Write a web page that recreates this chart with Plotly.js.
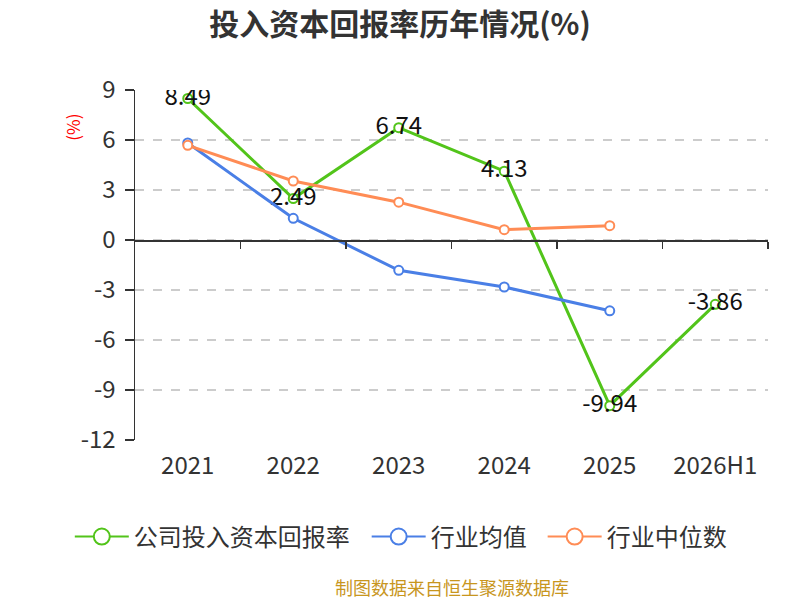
<!DOCTYPE html>
<html>
<head>
<meta charset="utf-8">
<script src="https://cdn.plot.ly/plotly-3.0.1.min.js"></script>
<style>
  html, body { margin: 0; padding: 0; background: #fff; }
  #chart { width: 800px; height: 600px; }
</style>
</head>
<body>
<div id="chart"></div>
<script>
// 投入资本回报率历年情况
var years = ['2021', '2022', '2023', '2024', '2025', '2026H1'];
var company_roic = [8.49, 2.49, 6.74, 4.13, -9.94, -3.86];
var industry_mean = [5.82, 1.30, -1.82, -2.82, -4.25, null];
var industry_median = [5.68, 3.54, 2.27, 0.62, 0.86, null];
var yticks = [-12, -9, -6, -3, 0, 3, 6, 9];

var series_names = ['公司投入资本回报率', '行业均值', '行业中位数'];
var series_colors = ['#52c41a', '#4a7fe6', '#ff8c55'];

var font_family = '"Noto Sans CJK SC", "Noto Sans", sans-serif';

function line_trace(name, values, color, with_labels) {
  var trace = {
    x: years,
    y: values,
    name: name,
    type: 'scatter',
    mode: with_labels ? 'lines+markers+text' : 'lines+markers',
    line: {color: color, width: 3},
    marker: {
      symbol: 'circle',
      size: 9,
      color: '#fff',
      line: {color: color, width: 2},
    },
    showlegend: false,
    hoverinfo: 'x+y',
  };
  if (with_labels) {
    trace.text = values.map(function (v) { return v.toFixed(2); });
    trace.textposition = 'middle center';
    trace.textfont = {family: font_family, size: 24, color: '#111'};
  }
  return trace;
}

// legend entries only (bigger symbol than the plotted markers), one legend each
function legend_trace(name, color, legend_id) {
  return {
    x: [null],
    y: [null],
    name: name,
    legend: legend_id,
    type: 'scatter',
    mode: 'lines+markers',
    line: {color: color, width: 2},
    marker: {
      symbol: 'circle',
      size: 20,
      color: '#fff',
      line: {color: color, width: 2},
    },
    hoverinfo: 'skip',
  };
}

var legend_ids = ['legend', 'legend2', 'legend3'];
var legend_left = [-0.103, 0.366, 0.644];

var plot_data = [
  line_trace(series_names[0], company_roic, series_colors[0], true),
  line_trace(series_names[1], industry_mean, series_colors[1], false),
  line_trace(series_names[2], industry_median, series_colors[2], false),
];
for (let i = 0; i < series_names.length; i++) {
  plot_data.push(legend_trace(series_names[i], series_colors[i], legend_ids[i]));
}

// zero axis with ticks at category boundaries
var boundaries = [];
for (let i = 0; i < years.length; i++) {
  boundaries.push(i + 0.5);
}
plot_data.push({
  x: boundaries,
  y: boundaries.map(function () { return null; }),
  xaxis: 'x2',
  type: 'scatter',
  mode: 'none',
  showlegend: false,
  hoverinfo: 'skip',
});

var ymin = yticks[0];
var ymax = yticks[yticks.length - 1];
var zero_pos = (0 - ymin) / (ymax - ymin);

var layout = {
  width: 800,
  height: 600,
  paper_bgcolor: '#fff',
  plot_bgcolor: '#fff',
  font: {family: font_family, color: '#333'},
  title: {
    text: '<b>投入资本回报率历年情况(%)</b>',
    font: {family: font_family, size: 30, color: '#333'},
    x: 0.5, xanchor: 'center',
    y: 0.96, yanchor: 'middle',
  },
  margin: {t: 90, r: 32, l: 135, b: 160},
  showlegend: true,
  xaxis: {
    type: 'category',
    range: [-0.5, years.length - 0.5],
    showline: false,
    showgrid: false,
    zeroline: false,
    ticks: '',
    ticklabelstandoff: 9,
    tickfont: {family: font_family, size: 24, color: '#333'},
    fixedrange: true,
  },
  xaxis2: {
    overlaying: 'x',
    anchor: 'free',
    position: zero_pos,
    side: 'bottom',
    range: [-0.5, years.length - 0.5],
    showline: true,
    linecolor: '#333',
    linewidth: 1.5,
    showgrid: false,
    zeroline: false,
    tickmode: 'array',
    tickvals: boundaries,
    ticks: 'outside',
    ticklen: 7,
    tickwidth: 1.5,
    tickcolor: '#333',
    showticklabels: false,
    fixedrange: true,
  },
  yaxis: {
    range: [ymin, ymax],
    tickmode: 'array',
    tickvals: yticks,
    ticktext: yticks.map(String),
    showline: true,
    linecolor: '#333',
    linewidth: 1.5,
    ticks: 'outside',
    ticklen: 9,
    tickwidth: 1.5,
    tickcolor: '#333',
    ticklabelstandoff: 4,
    showgrid: true,
    gridcolor: '#cccccc',
    gridwidth: 1.2,
    griddash: 'dash',
    zeroline: false,
    tickfont: {family: font_family, size: 24, color: '#333'},
    fixedrange: true,
  },
  annotations: [
    {
      text: '(%)',
      xref: 'paper', yref: 'paper',
      x: -0.098, y: 0.895,
      xanchor: 'center', yanchor: 'middle',
      textangle: -90,
      showarrow: false,
      font: {family: font_family, size: 17, color: '#ff0000'},
    },
    {
      text: '制图数据来自恒生聚源数据库',
      xref: 'paper', yref: 'paper',
      x: 0.5, y: -0.42,
      xanchor: 'center', yanchor: 'middle',
      showarrow: false,
      font: {family: font_family, size: 18, color: '#c8961e'},
    },
  ],
};

for (let i = 0; i < legend_ids.length; i++) {
  layout[legend_ids[i]] = {
    orientation: 'h',
    x: legend_left[i], xanchor: 'left',
    y: -0.277, yanchor: 'middle',
    font: {family: font_family, size: 24, color: '#333'},
    itemwidth: 54,
    bgcolor: 'rgba(0,0,0,0)',
  };
}

var config = {
  responsive: false,
  displayModeBar: false,
  staticPlot: true,
};

Plotly.newPlot('chart', plot_data, layout, config);
</script>
</body>
</html>
